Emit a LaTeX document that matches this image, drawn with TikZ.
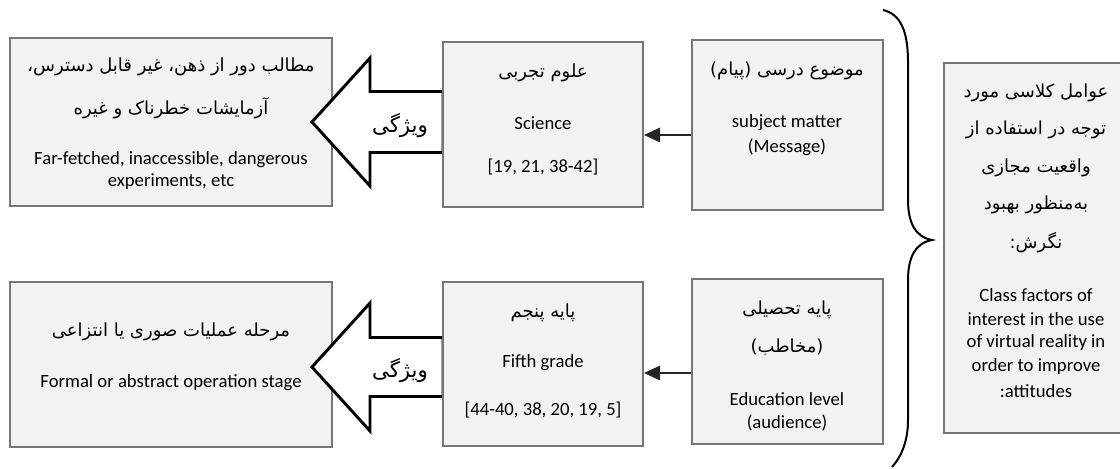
\documentclass[tikz,border=0pt]{standalone}
\usepackage{fontspec}
\setmainfont{Carlito}
\newfontfamily\fa[Script=Arabic]{DejaVu Sans}
\TeXXeTstate=1
\usetikzlibrary{arrows.meta,calc}
\definecolor{boxfill}{HTML}{F2F2F2}
\definecolor{boxline}{HTML}{767676}
% Persian line, set right to left
\newcommand{\fatext}[1]{{\fa\fontsize{13.5}{16}\selectfont\beginR #1\endR}}
\newcommand{\falabel}[1]{{\fa\fontsize{16}{18}\selectfont\beginR #1\endR}}

\begin{document}
\begin{tikzpicture}[x=0.75pt,y=-0.75pt,
  box/.style={draw=boxline, fill=boxfill, line width=1.6pt, inner sep=0pt},
  en/.style={font=\fontsize{14}{17}\selectfont, inner sep=0pt},
  fa/.style={inner sep=0pt},
  blockarrow/.style={draw=black, fill=white, line width=2.2pt, line join=miter},
  conn/.style={draw=black!85, line width=0.9pt, -{Triangle[length=12pt,width=11pt]}},
  brace/.style={draw=black, line width=1.5pt}]
\useasboundingbox (0,0) rectangle (1120,468);
\clip (0,0) rectangle (1120,468);

% ---- boxes of the top row ----
\node[box, minimum width=241.5pt, minimum height=126pt] (A) at (171,122) {};
\node[box, minimum width=143.25pt, minimum height=127.5pt] (C) at (787.5,125) {};

% ---- boxes of the bottom row ----
\node[box, minimum width=241.5pt, minimum height=123.75pt] (F) at (171,364.5) {};
\node[box, minimum width=143.25pt, minimum height=123.75pt] (D) at (787.5,361.5) {};

% ---- the class factors box on the right, running past the page edge ----
\node[box, minimum width=150pt, minimum height=277.5pt, anchor=west] (E) at (943,248) {};

% ---- block arrows (drawn before the middle boxes) ----
\coordinate (t1) at (312,122);
\coordinate (t2) at (312,367);
\coordinate (s1) at (443,0);
\draw[blockarrow] (s1 |- 0,91.5) -- ($(t1)+(58,-30.5)$) -- ($(t1)+(58,-64)$) -- (t1)
  -- ($(t1)+(58,64)$) -- ($(t1)+(58,30.5)$) -- (s1 |- 0,152.5) -- cycle;
\draw[blockarrow] (s1 |- 0,337.5) -- ($(t2)+(58,-29.5)$) -- ($(t2)+(58,-64)$) -- (t2)
  -- ($(t2)+(58,64)$) -- ($(t2)+(58,29.5)$) -- (s1 |- 0,396.5) -- cycle;
\node[fa] (k1) at (400,126) {\falabel{ویژگی}};
\node[fa] (k2) at (400,371) {\falabel{ویژگی}};

% ---- middle boxes ----
\node[box, minimum width=150pt, minimum height=123.75pt] (B) at (543,124.5) {};
\node[box, minimum width=150pt, minimum height=123pt] (G) at (543,364) {};

% ---- connectors ----
\coordinate (c1) at (0,135);
\coordinate (c2) at (0,373);
\draw[conn] (C.west |- c1) -- (B.east |- c1);
\draw[conn] (D.west |- c2) -- (G.east |- c2);

% ---- brace ----
\coordinate (bt) at (883,10);
\coordinate (bm) at (932,240);
\coordinate (bb) at (892,467);
\draw[brace] (bt) .. controls (900,14) and (908,30) .. (908,62) -- (908,200)
  .. controls (908,222) and (915,237) .. (bm)
  .. controls (915,243) and (908,258) .. (908,280) -- (908,420)
  .. controls (908,440) and (902,456) .. (bb);

% ---- texts ----
\node[fa] (a1) at (171,67) {\fatext{مطالب دور از ذهن، غیر قابل دسترس،}};
\node[fa] (a2) at (171,108) {\fatext{آزمایشات خطرناک و غیره}};
\node[en] (a3) at (171,160) {Far-fetched, inaccessible, dangerous};
\node[en] (a4) at (171,182) {experiments, etc};

\node[fa] (b1) at (543,73) {\fatext{علوم تجربی}};
\node[en] (b2) at (543,123) {Science};
\node[en] (b3) at (543,167) {[19, 21, 38-42]};

\node[fa] (c1t) at (787,71) {\fatext{موضوع درسی (پیام)}};
\node[en] (c2t) at (787,123) {subject matter};
\node[en] (c3t) at (787,147) {(Message)};

\node[fa] (d1) at (787,310) {\fatext{پایه تحصیلی}};
\node[fa] (d2) at (787,347) {\fatext{(مخاطب)}};
\node[en] (d3) at (787,399) {Education level};
\node[en] (d4) at (787,423) {(audience)};

\node[fa] (e1) at (1036,93) {\fatext{عوامل کلاسی مورد}};
\node[fa] (e2) at (1036,130) {\fatext{توجه در استفاده از}};
\node[fa] (e3) at (1036,168) {\fatext{واقعیت مجازی}};
\node[fa] (e4) at (1036,205) {\fatext{به‌منظور بهبود}};
\node[fa] (e5) at (1036,243) {\fatext{نگرش:}};
\node[en] (e6) at (1036,295) {Class factors of};
\node[en] (e7) at (1036,319) {interest in the use};
\node[en] (e8) at (1036,343) {of virtual reality in};
\node[en] (e9) at (1036,367) {order to improve};
\node[en] (e10) at (1036,391) {:attitudes};

\node[fa] (f1) at (171,332) {\fatext{مرحله عملیات صوری یا انتزاعی}};
\node[en] (f2) at (171,383) {Formal or abstract operation stage};

\node[fa] (g1) at (543,313) {\fatext{پایه پنجم}};
\node[en] (g2) at (543,363) {Fifth grade};
\node[en] (g3) at (543,410) {[44-40, 38, 20, 19, 5]};
\end{tikzpicture}
\end{document}
